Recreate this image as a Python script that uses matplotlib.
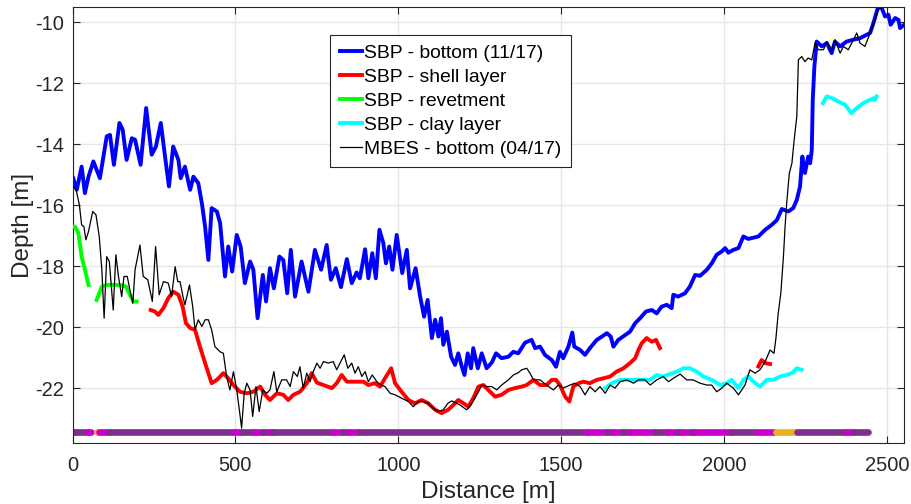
import matplotlib
matplotlib.use("Agg")
import matplotlib.pyplot as plt

plt.rcParams["font.family"] = ["Liberation Sans", "DejaVu Sans"]
plt.rcParams["axes.unicode_minus"] = False

# --- data (distance [m], depth [m]) ---
sbp_bottom = [
    (2, -15.11), (13, -15.49), (28, -14.73), (38, -15.6), (49, -15.06), (64, -14.56),
    (84, -15.11), (105, -13.74), (115, -13.69), (127, -14.67), (144, -13.30), (154, -13.52),
    (166, -14.51), (182, -13.80), (192, -13.85), (209, -14.67), (226, -12.81), (243, -14.34),
    (256, -14.07), (271, -13.30), (284, -14.40), (296, -15.38), (309, -14.07), (325, -14.51),
    (332, -15.11), (345, -14.73), (361, -15.49), (371, -15.06), (386, -15.27), (397, -15.93),
    (407, -16.70), (417, -17.79), (427, -16.09), (443, -16.20), (453, -16.58), (468, -18.33),
    (478, -17.35), (490, -18.17), (504, -16.97), (516, -17.35), (529, -18.55), (545, -17.84),
    (555, -18.11), (568, -19.70), (584, -18.28), (594, -19.15), (606, -18.06), (618, -18.72),
    (635, -17.68), (647, -17.79), (659, -18.88), (670, -17.46), (683, -18.99), (703, -17.84),
    (724, -18.83), (744, -17.46), (763, -18.11), (780, -17.30), (793, -18.44), (808, -18.06),
    (824, -18.68), (842, -17.76), (857, -18.55), (872, -18.20), (882, -18.39), (898, -17.44),
    (908, -18.39), (920, -17.57), (931, -18.39), (942, -16.80), (954, -17.24), (962, -17.90),
    (972, -17.35), (982, -18.11), (995, -16.97), (1012, -18.22), (1026, -17.46), (1036, -18.72),
    (1053, -18.06), (1067, -18.99), (1079, -19.65), (1090, -19.10), (1103, -20.35), (1113, -19.75),
    (1123, -20.30), (1131, -19.70), (1138, -20.57), (1149, -20.14), (1162, -20.96), (1174, -21.23),
    (1184, -20.85), (1195, -21.29), (1203, -21.56), (1213, -20.85), (1223, -21.34), (1230, -20.68),
    (1244, -21.34), (1256, -20.85), (1271, -21.34), (1287, -21.15), (1300, -20.85), (1317, -21.01),
    (1338, -20.96), (1353, -20.80), (1368, -20.85), (1389, -20.50), (1409, -20.41), (1420, -20.68),
    (1435, -20.63), (1450, -20.90), (1471, -21.07), (1484, -21.29), (1496, -20.80), (1506, -21.01),
    (1522, -20.63), (1534, -20.17), (1540, -20.63), (1558, -20.74), (1573, -20.90), (1588, -20.68),
    (1609, -20.41), (1625, -20.30), (1640, -20.19), (1652, -20.30), (1660, -20.63), (1675, -20.41),
    (1690, -20.30), (1711, -20.14), (1727, -19.86), (1742, -19.70), (1760, -19.48), (1778, -19.43),
    (1793, -19.54), (1808, -19.32), (1824, -19.26), (1839, -19.37), (1844, -18.93), (1859, -18.99),
    (1880, -18.88), (1895, -18.66), (1911, -18.28), (1926, -18.31), (1947, -18.11), (1962, -17.90),
    (1977, -17.62), (1993, -17.51), (2003, -17.40), (2013, -17.55), (2028, -17.46), (2044, -17.40),
    (2059, -17.02), (2074, -17.10), (2105, -17.02), (2126, -16.80), (2146, -16.64), (2162, -16.48),
    (2177, -16.12), (2197, -16.20), (2212, -16.09), (2223, -15.82), (2233, -15.38), (2240, -14.40),
    (2248, -14.94), (2258, -14.40), (2264, -14.62), (2269, -14.18), (2272, -12.54), (2277, -11.45),
    (2284, -10.63), (2300, -10.79), (2315, -10.68), (2330, -11.01), (2340, -10.63), (2356, -10.79),
    (2376, -10.63), (2397, -10.57), (2417, -10.52), (2448, -10.35), (2458, -10.03), (2473, -9.48),
    (2484, -9.54), (2494, -9.81), (2504, -9.75), (2511, -10.08), (2525, -9.86), (2535, -9.92),
    (2540, -10.19), (2550, -10.10),
]

sbp_shell = [
    [(240, -19.43), (253, -19.48), (263, -19.59), (279, -19.37), (294, -19.04), (309, -18.83),
     (325, -18.93), (338, -19.32), (348, -19.86), (361, -20.02), (376, -20.08), (391, -20.63),
     (407, -21.17), (417, -21.50), (427, -21.83), (443, -21.72), (463, -21.50), (478, -21.67),
     (494, -21.89), (514, -22.11), (535, -22.16), (555, -22.11), (576, -21.94), (591, -22.21),
     (606, -22.38), (627, -22.16), (647, -22.21), (662, -22.38), (678, -22.21), (698, -22.11),
     (703, -22.05), (719, -21.83), (734, -21.50), (750, -21.81), (770, -21.89), (796, -21.99),
     (811, -21.83), (826, -21.56), (842, -21.78), (867, -21.78), (893, -21.78), (908, -21.89),
     (928, -21.83), (944, -21.94), (959, -21.67), (978, -21.34), (990, -21.83), (1010, -22.11),
     (1031, -22.38), (1051, -22.49), (1072, -22.38), (1092, -22.49), (1113, -22.70), (1133, -22.81),
     (1153, -22.70), (1169, -22.54), (1184, -22.38), (1200, -22.49), (1215, -22.60), (1230, -22.32),
     (1246, -21.94), (1261, -21.89), (1276, -22.05), (1297, -22.27), (1317, -22.21), (1338, -22.05),
     (1358, -21.99), (1379, -21.94), (1394, -21.89), (1415, -21.72), (1435, -21.89), (1455, -21.89),
     (1471, -21.72), (1484, -21.72), (1496, -21.89), (1512, -22.27), (1525, -22.43), (1537, -21.94),
     (1553, -21.83), (1568, -21.78), (1588, -21.83), (1609, -21.72), (1629, -21.67), (1650, -21.61),
     (1670, -21.45), (1691, -21.34), (1711, -21.17), (1727, -21.01), (1737, -20.74), (1747, -20.52),
     (1762, -20.35), (1778, -20.47), (1791, -20.41), (1803, -20.68)],
    [(2105, -21.28), (2115, -21.07), (2126, -21.17), (2141, -21.20)],
]

sbp_revetment = [
    [(1, -16.70), (8, -16.70), (18, -16.91), (28, -17.68), (38, -18.11), (49, -18.61)],
    [(74, -19.10), (90, -18.66), (105, -18.61), (125, -18.61), (146, -18.61), (164, -18.66),
     (176, -18.93), (187, -19.15), (197, -19.15)],
]

sbp_clay = [
    [(1635, -21.99), (1655, -21.83), (1681, -21.72), (1711, -21.72), (1742, -21.72), (1773, -21.72),
     (1793, -21.56), (1813, -21.61), (1834, -21.53), (1855, -21.45), (1875, -21.34), (1895, -21.34),
     (1916, -21.45), (1936, -21.61), (1962, -21.72), (1988, -21.89), (2008, -21.83), (2023, -21.72),
     (2044, -21.99), (2059, -21.72), (2074, -21.61), (2090, -21.78), (2110, -21.94), (2131, -21.72),
     (2151, -21.72), (2172, -21.61), (2192, -21.56), (2208, -21.50), (2223, -21.34), (2238, -21.39)],
    [(2303, -12.65), (2315, -12.43), (2330, -12.48), (2351, -12.60), (2371, -12.70), (2391, -12.98),
     (2407, -12.81), (2427, -12.65), (2448, -12.54), (2458, -12.49), (2463, -12.54), (2468, -12.43)],
]

mbes_bottom = [
    (2, -15.38), (11, -15.49), (21, -15.98), (28, -16.64), (35, -16.70), (41, -17.13), (49, -16.86),
    (62, -16.20), (72, -16.31), (82, -17.02), (90, -18.11), (97, -19.70), (105, -17.68), (113, -17.84),
    (125, -19.43), (133, -17.62), (141, -18.33), (151, -18.99), (158, -18.33), (168, -18.33),
    (176, -18.77), (185, -19.21), (192, -18.11), (207, -17.30), (217, -18.33), (231, -18.44),
    (245, -19.15), (255, -17.35), (266, -18.93), (279, -18.50), (294, -18.55), (304, -18.99),
    (315, -18.01), (323, -18.50), (330, -18.50), (340, -19.04), (345, -19.26), (359, -18.61),
    (369, -19.32), (376, -20.08), (386, -19.75), (397, -19.97), (407, -19.75), (417, -19.75),
    (427, -20.08), (437, -20.63), (453, -20.80), (463, -20.85), (473, -21.61), (483, -22.05),
    (494, -21.45), (504, -22.05), (512, -22.70), (519, -23.30), (527, -22.16), (535, -21.83),
    (545, -22.05), (553, -22.92), (563, -21.94), (573, -22.76), (584, -22.05), (596, -22.16),
    (606, -22.05), (618, -21.45), (627, -22.11), (642, -21.72), (657, -21.72), (668, -21.94),
    (678, -21.45), (690, -21.61), (698, -21.29), (708, -21.99), (719, -21.50), (729, -21.78),
    (739, -21.45), (750, -21.17), (760, -21.34), (770, -21.12), (785, -21.17), (800, -21.12),
    (811, -21.39), (821, -21.17), (834, -20.90), (845, -21.34), (857, -21.17), (867, -21.50),
    (877, -21.29), (888, -21.61), (898, -21.45), (908, -21.78), (920, -21.56), (934, -21.78),
    (947, -21.89), (959, -21.94), (975, -22.16), (990, -22.21), (1010, -22.32), (1031, -22.43),
    (1046, -22.60), (1061, -22.43), (1077, -22.43), (1092, -22.49), (1107, -22.65), (1123, -22.76),
    (1138, -22.70), (1152, -22.49), (1164, -22.41), (1176, -22.47), (1189, -22.54), (1203, -22.65),
    (1210, -22.70), (1223, -22.54), (1235, -22.32), (1246, -22.11), (1256, -21.89), (1271, -21.94),
    (1287, -21.94), (1302, -22.05), (1317, -21.89), (1338, -21.72), (1353, -21.56), (1366, -21.50),
    (1379, -21.39), (1394, -21.34), (1404, -21.50), (1415, -21.72), (1435, -21.72), (1455, -21.89),
    (1476, -22.05), (1491, -21.89), (1506, -21.99), (1527, -21.89), (1542, -21.83), (1558, -21.94),
    (1573, -22.21), (1588, -21.94), (1604, -22.11), (1619, -21.94), (1635, -22.16), (1650, -21.89),
    (1665, -21.99), (1681, -21.78), (1701, -21.72), (1722, -21.83), (1737, -21.72), (1757, -21.72),
    (1773, -21.89), (1793, -21.72), (1813, -21.61), (1829, -21.78), (1844, -21.67), (1865, -21.53),
    (1885, -21.72), (1905, -21.72), (1926, -21.83), (1947, -21.89), (1962, -21.89), (1977, -22.11),
    (1993, -21.99), (2008, -21.83), (2028, -21.99), (2044, -22.21), (2064, -21.89), (2079, -21.39),
    (2095, -21.50), (2110, -21.39), (2126, -21.12), (2141, -20.74), (2153, -20.85), (2159, -20.35),
    (2166, -19.53), (2174, -18.88), (2182, -17.68), (2187, -16.70), (2192, -15.93), (2200, -14.95),
    (2208, -14.62), (2215, -13.85), (2223, -13.09), (2226, -11.99), (2228, -11.23), (2238, -11.12),
    (2248, -11.29), (2258, -11.17), (2269, -11.23), (2279, -10.68), (2289, -10.90), (2305, -10.90),
    (2315, -10.63), (2330, -10.90), (2340, -10.57), (2356, -11.01), (2366, -10.79), (2381, -10.90),
    (2397, -10.57), (2407, -10.35), (2417, -10.68), (2432, -10.79), (2448, -10.35), (2460, -10.03),
    (2473, -9.59), (2480, -9.54),
]

# seabed classification strip along the track: (start, end, class)
strip_depth = -23.43
strip_colors = ["#7E2F8E", "#CC00CC", "#EDB120"]
strip_segments = [
    (0, 8, 1), (8, 48, 0), (48, 58, 1), (76, 81, 2), (81, 112, 1), (112, 495, 0), (495, 520, 1),
    (520, 560, 0), (560, 585, 1), (585, 605, 0), (605, 615, 1), (615, 800, 0), (800, 830, 1),
    (830, 850, 0), (850, 880, 1), (880, 1578, 0), (1578, 1640, 1), (1640, 1660, 0), (1660, 1690, 1),
    (1690, 1710, 0), (1710, 1787, 1), (1787, 1828, 0), (1828, 1859, 1), (1859, 1870, 0),
    (1870, 1900, 1), (1900, 1912, 0), (1912, 2022, 1), (2022, 2094, 0), (2100, 2152, 1),
    (2158, 2224, 2), (2224, 2377, 0), (2377, 2400, 1), (2400, 2441, 0),
]

x_ticks = [0, 500, 1000, 1500, 2000, 2500]
y_ticks = [-22, -20, -18, -16, -14, -12, -10]


def split(points):
    xs = [p[0] for p in points]
    ys = [p[1] for p in points]
    return xs, ys


fig = plt.figure(figsize=(9.11, 5.04), dpi=100)
ax = fig.add_axes([0.0796, 0.121, 0.9127, 0.865])

for start, end, cls in strip_segments:
    ax.plot([start, end], [strip_depth, strip_depth], color=strip_colors[cls],
            lw=4.8, solid_capstyle="round", zorder=1)

ax.plot(*split(sbp_bottom), color="#0000FF", lw=2.8, label="SBP - bottom (11/17)", zorder=2)
for i, part in enumerate(sbp_shell):
    ax.plot(*split(part), color="#FF0000", lw=2.8, zorder=3,
            label="SBP - shell layer" if i == 0 else None)
for i, part in enumerate(sbp_revetment):
    ax.plot(*split(part), color="#00FF00", lw=2.8, zorder=3,
            label="SBP - revetment" if i == 0 else None)
for i, part in enumerate(sbp_clay):
    ax.plot(*split(part), color="#00FFFF", lw=2.8, zorder=3,
            label="SBP - clay layer" if i == 0 else None)
ax.plot(*split(mbes_bottom), color="black", lw=0.9, label="MBES - bottom (04/17)", zorder=4)

ax.set_xlim(0, 2552)
ax.set_ylim(-23.79, -9.5)
ax.set_xticks(x_ticks)
ax.set_yticks(y_ticks)
ax.grid(True, color="#E6E6E6", lw=1.0)
ax.set_axisbelow(True)
ax.tick_params(direction="in", top=True, right=True, length=5, width=0.8,
               labelsize=14.5, color="#262626", labelcolor="#262626")
ax.tick_params(axis="x", pad=9)
ax.tick_params(axis="y", pad=6)
for s in ax.spines.values():
    s.set_color("#262626")
    s.set_linewidth(0.8)

ax.set_xlabel("Distance [m]", fontsize=17.5, color="#262626", labelpad=5)
ax.set_ylabel("Depth [m]", fontsize=17.5, color="#262626", labelpad=1)

leg = ax.legend(loc="upper left", bbox_to_anchor=(0.31, 0.936), fontsize=13.9,
                handlelength=1.15, handletextpad=0.1, labelspacing=0.33,
                borderpad=0.5, borderaxespad=0, fancybox=False, framealpha=1,
                edgecolor="#262626")
leg.get_frame().set_linewidth(0.8)

fig.savefig("out.png", dpi=100)
